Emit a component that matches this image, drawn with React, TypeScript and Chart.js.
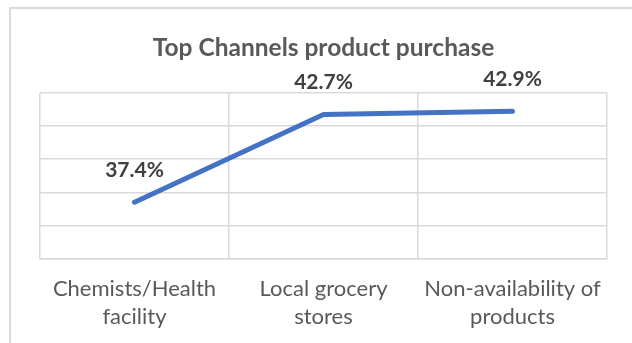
import React, { useEffect, useRef } from "react";
import { Chart, registerables } from "chart.js";

Chart.register(...registerables);

const categories: string[][] = [
  ["Chemists/Health", "facility"],
  ["Local grocery", "stores"],
  ["Non-availability of", "products"],
];
const values: number[] = [37.4, 42.7, 42.9];
const valueLabels: string[] = ["37.4%", "42.7%", "42.9%"];
const yMin = 34;
const yMax = 44;
const yStep = 2;
const titleText = "Top Channels product purchase";

const FONT = "Lato, 'Open Sans', sans-serif";

const valueLabelPlugin = {
  id: "valueLabels",
  afterDatasetsDraw(chart: any) {
    const ctx = chart.ctx;
    const meta = chart.getDatasetMeta(0);
    ctx.save();
    ctx.font = `bold 21px ${FONT}`;
    ctx.fillStyle = "#404040";
    ctx.textAlign = "center";
    ctx.textBaseline = "middle";
    meta.data.forEach((pt: any, i: number) => {
      ctx.fillText(valueLabels[i], pt.x, pt.y - 32);
    });
    ctx.restore();
  },
};

export default function App() {
  const ref = useRef<HTMLCanvasElement | null>(null);
  useEffect(() => {
    if (!ref.current) return;
    const chart = new Chart(ref.current, {
      type: "line",
      data: {
        labels: categories as any,
        datasets: [
          {
            data: values,
            borderColor: "#4472C4",
            borderWidth: 5,
            pointRadius: 0,
            pointHoverRadius: 0,
            borderCapStyle: "round",
            borderJoinStyle: "round",
            tension: 0,
            fill: false,
          },
        ],
      },
      options: {
        animation: false,
        responsive: false,
        layout: { padding: { left: 40, right: 25, top: 0, bottom: 11.5 } },
        plugins: {
          legend: { display: false },
          tooltip: { enabled: false },
          title: {
            display: true,
            text: titleText,
            color: "#595959",
            font: { family: FONT, size: 24.5, weight: "bold", lineHeight: 1.2 },
            padding: { top: 33, bottom: 30.6 },
          },
        },
        scales: {
          x: {
            offset: true,
            grid: { offset: true, color: "#d9d9d9", lineWidth: 1.5, drawTicks: false },
            border: { display: true, color: "#d9d9d9", width: 1.5 },
            ticks: {
              color: "#595959",
              font: { family: FONT, size: 22, lineHeight: "28.5px" } as any,
              padding: 16,
              maxRotation: 0,
              autoSkip: false,
            },
            afterFit: (axis: any) => {
              axis.height = 73;
            },
          },
          y: {
            min: yMin,
            max: yMax,
            ticks: { display: false, stepSize: yStep },
            grid: { color: "#d9d9d9", lineWidth: 1.5, drawTicks: false },
            border: { display: false },
          },
        },
      },
      plugins: [valueLabelPlugin],
    });
    return () => chart.destroy();
  }, []);

  return (
    <div
      style={{
        position: "absolute",
        left: 0,
        top: 0,
        width: 632,
        height: 343,
        background: "#ffffff",
        overflow: "hidden",
      }}
    >
      <div
        style={{
          position: "absolute",
          left: 9,
          top: 7,
          right: -4,
          bottom: -10,
          borderTop: "2px solid #d9d9d9",
          borderLeft: "2px solid #d9d9d9",
        }}
      />
      <canvas
        ref={ref}
        width={632}
        height={343}
        style={{ position: "absolute", left: 0, top: 0, width: 632, height: 343 }}
      />
    </div>
  );
}
